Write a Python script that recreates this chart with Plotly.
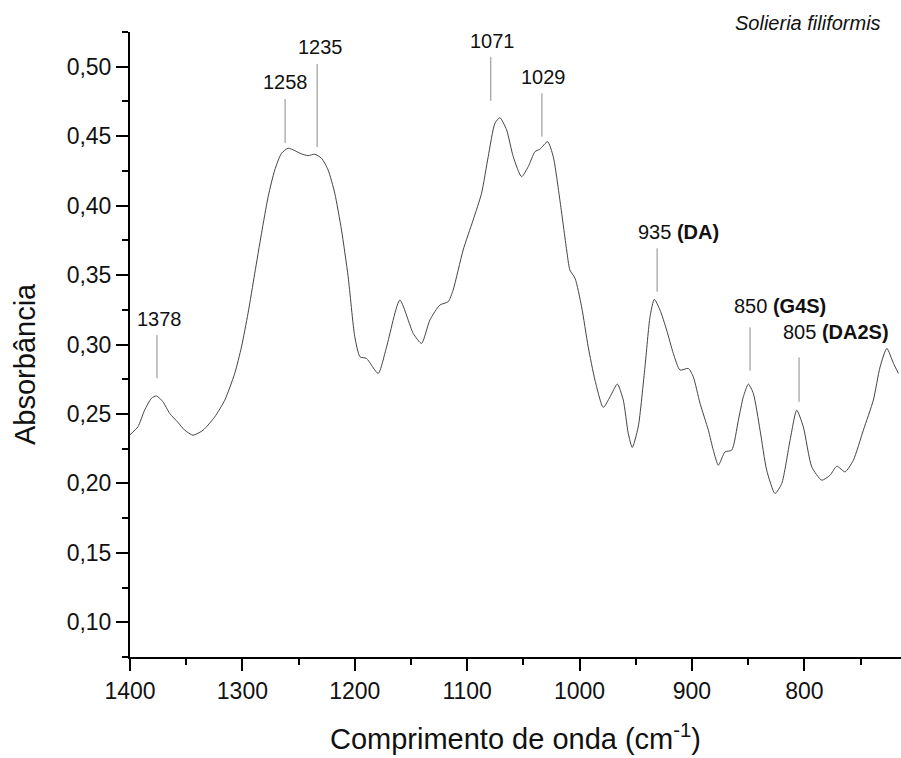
import plotly.graph_objects as go

# Wavenumber (cm-1) and absorbance
wavenumber = [1400, 1393, 1387, 1381, 1376.5, 1370.6, 1364.7, 1357.3, 1351.3, 1343.9,
              1335, 1324.6, 1315.7, 1306.8, 1300.8, 1295, 1289, 1283, 1277.1, 1271.2,
              1265.2, 1259.3, 1253.4, 1247.4, 1241.5, 1235.6, 1229.6, 1223.7, 1217.8, 1211.8,
              1205.9, 1200, 1195.3, 1189.6, 1179.2, 1171.7, 1159.9, 1148, 1140.6, 1133.2,
              1124.3, 1116.9, 1112.5, 1103.6, 1094.7, 1087.2, 1081.3, 1075.3, 1070.9, 1064.9,
              1059, 1051.6, 1045.7, 1039.7, 1035.3, 1028.4, 1023.4, 1017.5, 1011.5, 1008.6,
              1004, 998.2, 992.3, 986.3, 978.9, 972.9, 966.4, 961.1, 956.7, 953.1,
              947.8, 941.8, 937.3, 933.5, 928.4, 922.5, 916.6, 910.6, 903.2, 898.8,
              892.8, 885.4, 881, 876.5, 870.6, 864.6, 858.7, 854.3, 849.8, 845.4,
              839.4, 833.5, 826.1, 820.1, 812.7, 806.8, 800.9, 793.4, 784.5, 777.1,
              771.1, 763.8, 756.4, 747.5, 738.6, 732.6, 726.6, 720.7, 716.3]
absorbance = [0.235, 0.2407, 0.2527, 0.2612, 0.2630, 0.2587, 0.2504, 0.2439, 0.2383, 0.2347,
              0.2383, 0.2479, 0.2599, 0.2792, 0.2983, 0.3224, 0.3512, 0.380, 0.4064, 0.4256,
              0.4377, 0.4413, 0.4396, 0.4372, 0.436, 0.437, 0.4341, 0.4256, 0.4089, 0.3824,
              0.3488, 0.3056, 0.2911, 0.2900, 0.2792, 0.2983, 0.332, 0.308, 0.3008, 0.3176,
              0.3284, 0.3308, 0.3392, 0.368, 0.3896, 0.4089, 0.4352, 0.4593, 0.4633, 0.4545,
              0.4352, 0.4208, 0.428, 0.4388, 0.4406, 0.446, 0.4352, 0.404, 0.368, 0.3536,
              0.3476, 0.3272, 0.2983, 0.2744, 0.2547, 0.2623, 0.2715, 0.26, 0.236, 0.2259,
              0.2407, 0.2839, 0.32, 0.3325, 0.3248, 0.3104, 0.2936, 0.2816, 0.2828, 0.2767,
              0.2576, 0.2383, 0.2239, 0.2131, 0.2227, 0.2239, 0.2455, 0.2623, 0.2715, 0.2648,
              0.2383, 0.2095, 0.1927, 0.1999, 0.2311, 0.2527, 0.2407, 0.2119, 0.2023, 0.2059,
              0.2124, 0.2083, 0.2167, 0.2383, 0.26, 0.2839, 0.2972, 0.2864, 0.2792]

# Peak labels: text, marker line x, line bottom/top, text x, text y, anchor
peak_labels = ["1378", "1258", "1235", "1071", "1029",
               "935 <b>(DA)</b>", "850 <b>(G4S)</b>", "805 <b>(DA2S)</b>"]
peak_line_x = [1376, 1262, 1233.5, 1079, 1033.5, 931, 848.3, 804.7]
peak_line_y0 = [0.2756, 0.4451, 0.4422, 0.4754, 0.4497, 0.338, 0.2811, 0.2587]
peak_line_y1 = [0.3068, 0.4768, 0.502, 0.5071, 0.4809, 0.3692, 0.3123, 0.2907]
peak_text_x = [1373.5, 1261.4, 1230.4, 1077.7, 1031.7, 950.1, 864.6, 821]
peak_text_y = [0.3187, 0.4887, 0.5139, 0.5182, 0.4923, 0.3808, 0.3279, 0.3087]
peak_text_anchor = ["center"] * 5 + ["left"] * 3

y_ticks = [0.10, 0.15, 0.20, 0.25, 0.30, 0.35, 0.40, 0.45, 0.50]
x_ticks = [1400, 1300, 1200, 1100, 1000, 900, 800]

FONT = "Liberation Sans, Arial, sans-serif"

W, H = 901, 758
ML, MR, MT, MB = 130, 0, 32, 101
PW, PH = W - ML - MR, H - MT - MB

fig = go.Figure()
fig.add_trace(go.Scatter(x=wavenumber, y=absorbance, mode="lines",
                         line=dict(color="#444444", width=1, shape="spline", smoothing=0.6),
                         showlegend=False, hoverinfo="x+y"))

for i, lab in enumerate(peak_labels):
    fig.add_shape(type="line", xref="x", yref="y",
                  x0=peak_line_x[i], x1=peak_line_x[i],
                  y0=peak_line_y0[i], y1=peak_line_y1[i],
                  line=dict(color="#8a8a8a", width=1))
    fig.add_annotation(x=peak_text_x[i], y=peak_text_y[i], xref="x", yref="y",
                       text=lab, showarrow=False, xanchor=peak_text_anchor[i],
                       yanchor="middle", font=dict(family=FONT, size=20, color="#111111"))

# sample name (placed in paper coords: it lies above the y range)
fig.add_annotation(x=(883 - ML) / PW, y=(H - MB - 23.5) / PH, xref="paper", yref="paper",
                   text="<i>Solieria filiformis</i>",
                   showarrow=False, xanchor="right", yanchor="middle",
                   font=dict(family=FONT, size=20, color="#111111"))

# y-axis title, positioned as in the reference (slightly below the axis centre)
fig.add_annotation(x=(25 - ML) / PW, y=(H - MB - 364) / PH, xref="paper", yref="paper",
                   text="Absorbância",
                   showarrow=False, textangle=-90, xanchor="center", yanchor="middle",
                   font=dict(family=FONT, size=29, color="#111111"))

axis_common = dict(showline=True, linecolor="black", linewidth=2, ticks="outside",
                   ticklen=12, tickwidth=2, tickcolor="black", showgrid=False,
                   zeroline=False, mirror=False,
                   tickfont=dict(family=FONT, size=23, color="#111111"))

fig.update_layout(
    width=W, height=H,
    margin=dict(l=ML, r=MR, t=MT, b=MB, autoexpand=False),
    plot_bgcolor="white", paper_bgcolor="white",
    separators=",.",
    xaxis=dict(range=[1400, 714], tickvals=x_ticks, tickformat="d",
               minor=dict(dtick=50, tick0=0, ticks="outside", ticklen=6, tickwidth=2,
                          tickcolor="black"),
               title=dict(text="Comprimento de onda (cm<sup>-1</sup>)", standoff=26,
                          font=dict(family=FONT, size=29, color="#111111")),
               **axis_common),
    yaxis=dict(range=[0.075, 0.525], tickvals=y_ticks, tickformat=".2f",
               minor=dict(dtick=0.025, tick0=0, ticks="outside", ticklen=6, tickwidth=2,
                          tickcolor="black"),
               **axis_common),
)

fig.write_html("out.html", config={"displayModeBar": False},
               post_script="document.body.style.margin='0';document.body.style.overflow='hidden';")
